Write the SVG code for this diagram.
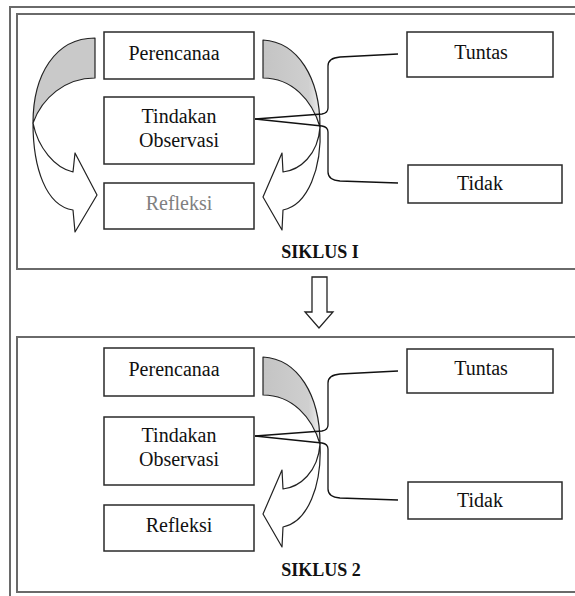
<svg xmlns="http://www.w3.org/2000/svg" width="575" height="596" viewBox="0 0 575 596">
<defs>
<style>
.frame{fill:none;stroke:#6a6a6a;stroke-width:2}
.box{fill:#fff;stroke:#2a2a2a;stroke-width:1.5}
.t{font-family:'Liberation Serif','DejaVu Serif',serif;font-size:20px;fill:#111;text-anchor:middle}
.lbl{font-family:'Liberation Serif','DejaVu Serif',serif;font-size:18px;font-weight:bold;fill:#111;text-anchor:middle}
.arr{stroke:#222;stroke-width:1.2;stroke-linejoin:round}
.gray{fill:#c9c9c9}
.white{fill:#fff}
.con{fill:none;stroke:#111;stroke-width:1.3}
</style>
<linearGradient id="gshade" x1="0" y1="0" x2="1" y2="0">
<stop offset="0" stop-color="#c4c4c4"/>
<stop offset="0.8" stop-color="#cfcfcf"/>
<stop offset="1" stop-color="#eeeeee"/>
</linearGradient>
</defs>
<rect width="575" height="596" fill="#fff"/>
<!-- outer frame -->
<path class="frame" d="M575,7 H10 V596"/>
<!-- Siklus frames -->
<path class="frame" d="M575,14 H17 V269 H575"/>
<path class="frame" d="M575,337 H17 V592 H575"/>

<!-- Siklus I -->
<g id="s1-left-arrow">
<path class="arr gray" d="M95,38 C55,38 33,75 33,123 C42,98 65,78 95,78 Z"/>
<path class="arr white" d="M33,123 C33,168 46,206 73,210 L75,232 L97,195 L75,153 L73,172 C55,168 38,148 33,123 Z"/>
</g>
<g id="s1-right-arrow">
<path class="arr" fill="url(#gshade)" d="M263,40 C298,42 320,78 320,127 C312,100 292,78 263,78 Z"/>
<path class="arr white" d="M320,127 C322,168 308,205 283,210 L282,230 L263,197 L282,153 L283,172 C300,170 318,155 320,127 Z"/>
</g>
<g id="s1-perencanaa"><rect class="box" x="104" y="32" width="150" height="47"/><text class="t" x="174" y="60" font-family="Liberation Serif, serif">Perencanaa</text></g>
<g id="s1-tindakan"><rect class="box" x="104" y="97" width="150" height="67"/><text class="t" x="179" y="123">Tindakan</text><text class="t" x="179" y="147">Observasi</text></g>
<g id="s1-refleksi"><rect class="box" x="104" y="183" width="150" height="46"/><text class="t" x="179" y="210" style="fill:#808080">Refleksi</text></g>
<g id="s1-tuntas"><rect class="box" x="407" y="32" width="146" height="45"/><text class="t" x="481" y="59">Tuntas</text></g>
<g id="s1-tidak"><rect class="box" x="408" y="165" width="154" height="38"/><text class="t" x="480" y="190">Tidak</text></g>
<text class="lbl" x="320" y="258">SIKLUS I</text>

<!-- down arrow -->
<g id="down-arrow">
<path d="M312,277 H327 V312 H333 L319,328 L305,312 H312 Z" fill="#fff" stroke="#222" stroke-width="1.3" stroke-linejoin="miter"/>
</g>

<!-- Siklus 2 -->
<g id="s2-right-arrow">
<path class="arr" fill="url(#gshade)" d="M263,357 C298,359 320,395 320,444 C312,417 292,395 263,395 Z"/>
<path class="arr white" d="M320,444 C322,485 308,522 283,527 L282,547 L263,514 L282,470 L283,489 C300,487 318,472 320,444 Z"/>
</g>
<g id="s2-perencanaa"><rect class="box" x="104" y="348" width="150" height="48"/><text class="t" x="174" y="376">Perencanaa</text></g>
<g id="s2-tindakan"><rect class="box" x="104" y="417" width="150" height="68"/><text class="t" x="179" y="442">Tindakan</text><text class="t" x="179" y="466">Observasi</text></g>
<g id="s2-refleksi"><rect class="box" x="104" y="505" width="150" height="46"/><text class="t" x="179" y="532">Refleksi</text></g>
<g id="s2-tuntas"><rect class="box" x="407" y="349" width="146" height="44"/><text class="t" x="481" y="375">Tuntas</text></g>
<g id="s2-tidak"><rect class="box" x="408" y="482" width="154" height="37"/><text class="t" x="480" y="507">Tidak</text></g>
<text class="lbl" x="321" y="576">SIKLUS 2</text>

<!-- connectors -->
<g id="connectors">
<path class="con" d="M255,119 L322,114 Q328,113 328,108 V66 Q328,58 340,57 L398,54"/>
<path class="con" d="M255,119 L322,126 Q328,127 328,132 V172 Q328,180 340,181 L398,183"/>
<path class="con" d="M255,436 L322,431 Q328,430 328,425 V383 Q328,375 340,374 L398,371"/>
<path class="con" d="M255,436 L322,443 Q328,444 328,449 V489 Q328,497 340,498 L398,500"/>
</g>
</svg>
